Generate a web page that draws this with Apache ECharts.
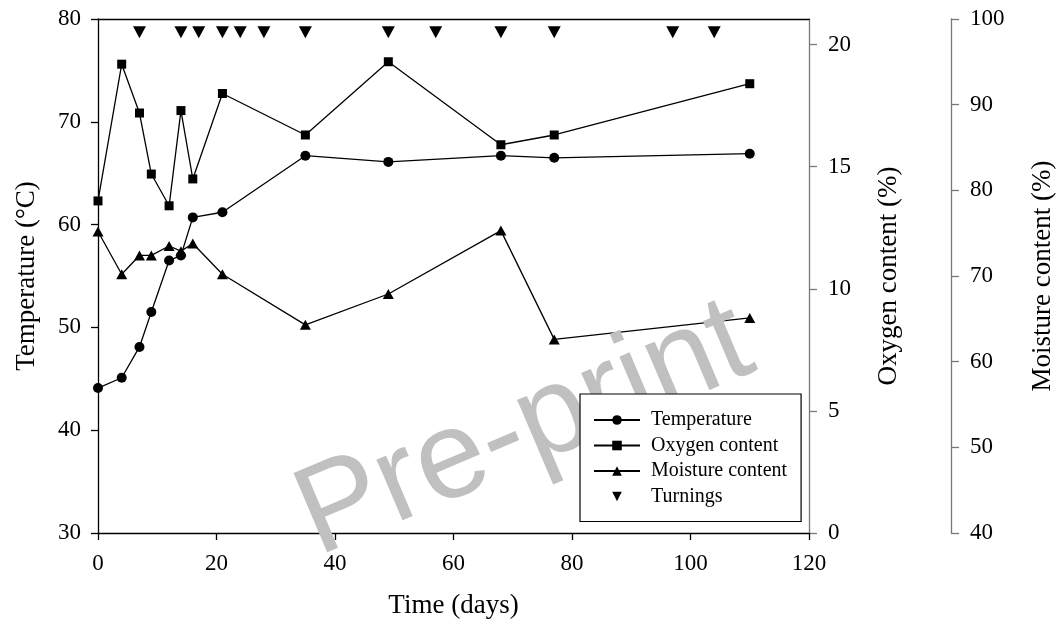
<!DOCTYPE html>
<html>
<head>
<meta charset="utf-8">
<script src="https://cdn.jsdelivr.net/npm/echarts@6/dist/echarts.min.js"></script>
<style>
  html, body { margin: 0; padding: 0; background: #fff; }
  #main { width: 1059px; height: 632px; }
</style>
</head>
<body>
<div id="main"></div>
<script>
// sampling days
var days = [0, 4, 7, 9, 12, 14, 16, 21, 35, 49, 68, 77, 110];
var temperature = [44.1, 45.1, 48.1, 51.5, 56.5, 57.0, 60.7, 61.2, 66.7, 66.1, 66.7, 66.5, 66.9];
var oxygen = [13.6, 19.2, 17.2, 14.7, 13.4, 17.3, 14.5, 18.0, 16.3, 19.3, 15.9, 16.3, 18.4];
var moisture = [75.2, 70.2, 72.4, 72.4, 73.5, 72.9, 73.8, 70.2, 64.3, 67.9, 75.3, 62.6, 65.1];
// turnings are drawn along the top of the temperature axis
var turningDays = [7, 14, 17, 21, 24, 28, 35, 49, 57, 68, 77, 97, 104];
var turningLevel = 78.7;

var serif = 'Liberation Serif';

function pairs(xs, ys) {
    var out = [];
    for (var i = 0; i < xs.length; i = i + 1) {
        out.push([xs[i], ys[i]]);
    }
    return out;
}

var turningData = turningDays.map(function (d) { return [d, turningLevel]; });

function drawChart() {
    var myChart = echarts.init(document.getElementById('main'));

    var lineStyle = { color: '#000', width: 1.3 };
    var titleFont = { fontFamily: serif, fontSize: 27, color: '#000' };
    var tickFont = { fontFamily: serif, fontSize: 23, color: '#000' };

    var option = {
        animation: false,
        backgroundColor: '#fff',
        textStyle: { fontFamily: serif, color: '#000' },
        grid: { left: 98, right: 250, top: 19, bottom: 99, containLabel: false, outerBoundsMode: 'none' },
        xAxis: [
            {
                type: 'value',
                min: 0, max: 120, interval: 20,
                name: 'Time (days)',
                nameLocation: 'middle',
                nameGap: 59,
                nameTextStyle: titleFont,
                axisLine: { onZero: false, lineStyle: { color: '#000', width: 1.3 } },
                axisTick: { length: 7, lineStyle: { color: '#000', width: 1.3 } },
                axisLabel: Object.assign({ margin: 19 }, tickFont),
                splitLine: { show: false }
            },
            {
                type: 'value',
                position: 'top',
                min: 0, max: 120,
                axisLine: { show: true, onZero: false, lineStyle: { color: '#000', width: 1.3 } },
                axisTick: { show: false },
                axisLabel: { show: false },
                splitLine: { show: false }
            }
        ],
        yAxis: [
            {
                type: 'value',
                min: 30, max: 80, interval: 10,
                name: 'Temperature (°C)',
                nameLocation: 'middle',
                nameGap: 58,
                nameRotate: 90,
                nameTextStyle: titleFont,
                axisLine: { show: true, onZero: false, lineStyle: { color: '#000', width: 1.3 } },
                axisTick: { show: true, length: 7, lineStyle: { color: '#000', width: 1.3 } },
                axisLabel: Object.assign({ margin: 17 }, tickFont),
                splitLine: { show: false }
            },
            {
                type: 'value',
                position: 'right',
                min: 0, max: 21.05, interval: 5,
                name: 'Oxygen content (%)',
                nameLocation: 'middle',
                nameGap: 66,
                nameRotate: 90,
                nameTextStyle: titleFont,
                axisLine: { show: true, onZero: false, lineStyle: { color: '#777', width: 1.3 } },
                axisTick: { show: true, length: 8, lineStyle: { color: '#777', width: 1.3 } },
                axisLabel: Object.assign({ margin: 19, showMaxLabel: false }, tickFont),
                splitLine: { show: false }
            },
            {
                type: 'value',
                position: 'right',
                offset: 142,
                min: 40, max: 100, interval: 10,
                name: 'Moisture content (%)',
                nameLocation: 'middle',
                nameGap: 78,
                nameRotate: 90,
                nameTextStyle: titleFont,
                axisLine: { show: true, onZero: false, lineStyle: { color: '#777', width: 1.3 } },
                axisTick: { show: true, length: 8, lineStyle: { color: '#777', width: 1.3 } },
                axisLabel: Object.assign({ margin: 19 }, tickFont),
                splitLine: { show: false }
            }
        ],
        legend: {
            left: 580,
            top: 394,
            z: 120,
            orient: 'vertical',
            padding: [16, 14, 15, 13],
            itemGap: 5.5,
            itemWidth: 46,
            itemHeight: 12,
            borderColor: '#000',
            borderWidth: 1.2,
            borderRadius: 0,
            backgroundColor: '#fff',
            textStyle: { fontFamily: serif, fontSize: 20, lineHeight: 20, color: '#000', padding: [0, 0, 0, 6] },
            data: [
                'Temperature',
                'Oxygen content',
                'Moisture content',
                { name: 'Turnings', lineStyle: { opacity: 0, width: 0 } }
            ]
        },
        graphic: [
            {
                type: 'text',
                x: 525,
                y: 431,
                rotation: 23 * Math.PI / 180,
                z: 100,
                silent: true,
                style: {
                    text: 'Pre-print',
                    font: '125px "Liberation Sans"',
                    fill: '#c0c0c0',
                    textAlign: 'center',
                    textVerticalAlign: 'middle'
                }
            }
        ],
        series: [
            {
                name: 'Temperature',
                type: 'line',
                yAxisIndex: 0,
                data: pairs(days, temperature),
                symbol: 'circle',
                symbolSize: 10,
                lineStyle: lineStyle,
                itemStyle: { color: '#000' }
            },
            {
                name: 'Oxygen content',
                type: 'line',
                yAxisIndex: 1,
                data: pairs(days, oxygen),
                symbol: 'rect',
                symbolSize: 9,
                lineStyle: lineStyle,
                itemStyle: { color: '#000' }
            },
            {
                name: 'Moisture content',
                type: 'line',
                yAxisIndex: 2,
                data: pairs(days, moisture),
                symbol: 'triangle',
                symbolSize: [11, 10],
                lineStyle: lineStyle,
                itemStyle: { color: '#000' }
            },
            {
                name: 'Turnings',
                type: 'line',
                yAxisIndex: 0,
                data: turningData,
                symbol: 'triangle',
                symbolRotate: 180,
                symbolSize: [13, 12],
                lineStyle: { color: '#000', width: 0, opacity: 0 },
                itemStyle: { color: '#000' }
            }
        ]
    };

    myChart.setOption(option);
}

drawChart();
</script>
</body>
</html>
